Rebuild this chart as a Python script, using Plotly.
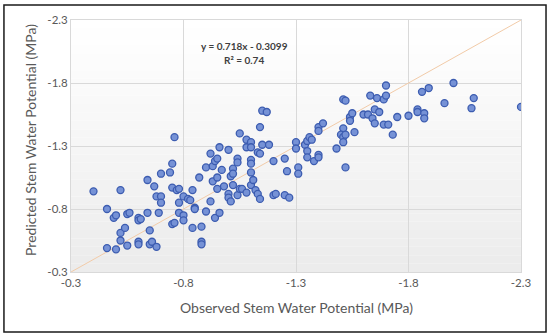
import plotly.graph_objects as go

observed = [-0.40, -0.46, -0.46, -0.49, -0.50, -0.50, -0.52, -0.52, -0.52, -0.54,
            -0.55, -0.55, -0.56, -0.60, -0.60, -0.61, -0.60, -0.60, -0.64, -0.64,
            -0.65, -0.65, -0.66, -0.67, -0.68, -0.68, -0.69, -0.70, -0.70, -0.70,
            -0.74, -0.75, -0.75, -0.75, -0.76, -0.76, -0.77, -0.78, -0.78, -0.78,
            -0.80, -0.80, -0.80, -0.82, -0.83, -0.84, -0.84, -0.85, -0.85, -0.87,
            -0.88, -0.88, -0.88, -0.90, -0.90, -0.92, -0.92, -0.93, -0.93, -0.94,
            -0.94, -0.95, -0.95, -0.95, -0.96, -0.96, -0.97, -0.98, -1.00, -1.00,
            -1.00, -1.01, -1.01, -1.02, -1.02, -1.02, -1.04, -1.04, -1.04, -1.05,
            -1.05, -1.06, -1.08, -1.08, -1.08, -1.10, -1.10, -1.10, -1.10, -1.10,
            -1.10, -1.11, -1.12, -1.13, -1.13, -1.14, -1.14, -1.14, -1.15, -1.15,
            -1.17, -1.18, -1.20, -1.20, -1.21, -1.25, -1.25, -1.26, -1.27, -1.30,
            -1.30, -1.31, -1.31, -1.34, -1.35, -1.35, -1.35, -1.36, -1.37, -1.38,
            -1.40, -1.40, -1.40, -1.40, -1.42, -1.48, -1.51, -1.52, -1.51, -1.50,
            -1.51, -1.51, -1.52, -1.52, -1.54, -1.54, -1.55, -1.56, -1.60, -1.62,
            -1.63, -1.64, -1.65, -1.65, -1.66, -1.67, -1.69, -1.69, -1.70, -1.70,
            -1.71, -1.73, -1.75, -1.80, -1.84, -1.84, -1.86, -1.87, -1.87, -1.89,
            -1.96, -2.00, -2.08, -2.09, -2.30]

predicted = [-0.94, -0.80, -0.49, -0.73, -0.75, -0.48, -0.95, -0.61, -0.55, -0.65,
             -0.76, -0.51, -0.77, -0.73, -0.71, -0.72, -0.54, -0.52, -1.03, -0.77,
             -0.63, -0.52, -0.54, -0.98, -0.90, -0.50, -0.77, -1.08, -0.90, -0.85,
             -1.09, -1.16, -0.97, -0.68, -1.37, -0.69, -0.95, -0.96, -0.85, -0.77,
             -0.90, -0.75, -0.71, -0.88, -0.87, -0.65, -0.95, -0.81, -0.80, -1.05,
             -0.66, -0.54, -0.52, -1.13, -0.78, -1.24, -0.86, -1.02, -1.14, -1.18,
             -0.73, -1.20, -1.05, -0.96, -1.29, -0.77, -1.11, -0.98, -1.27, -0.92,
             -0.89, -1.06, -0.86, -1.12, -1.08, -0.99, -1.20, -1.17, -0.91, -1.40,
             -0.96, -0.96, -1.35, -1.29, -0.93, -1.33, -1.29, -1.19, -1.16, -1.09,
             -0.99, -1.03, -0.95, -1.25, -0.92, -1.45, -1.24, -0.88, -1.58, -1.31,
             -1.57, -1.31, -1.18, -0.91, -0.92, -1.20, -0.91, -1.10, -0.89, -1.33,
             -1.28, -1.13, -1.08, -1.31, -1.34, -1.26, -1.21, -1.37, -1.35, -1.18,
             -1.45, -1.42, -1.23, -1.21, -1.48, -1.28, -1.67, -1.66, -1.44, -1.39,
             -1.37, -1.33, -1.39, -1.13, -1.53, -1.50, -1.56, -1.41, -1.55, -1.55,
             -1.70, -1.52, -1.59, -1.48, -1.68, -1.57, -1.67, -1.47, -1.70, -1.78,
             -1.47, -1.39, -1.53, -1.54, -1.59, -1.57, -1.73, -1.56, -1.52, -1.76,
             -1.64, -1.80, -1.60, -1.68, -1.61]

tick_values = [-0.3, -0.8, -1.3, -1.8, -2.3]
tick_labels = ["-0.3", "-0.8", "-1.3", "-1.8", "-2.3"]
axis_limits = [-0.3, -2.3]
equation_text = "y = 0.718x - 0.3099"
r2_text = "R² = 0.74"
x_title = "Observed Stem Water Potential (MPa)"
y_title = "Predicted Stem Water Potential (MPa)"

FONT = "Lato, 'Open Sans', sans-serif"
GREY = "#595959"

fig = go.Figure()

# 1:1 line
fig.add_trace(go.Scatter(
    x=axis_limits, y=axis_limits, mode="lines",
    line=dict(color="#f2cba8", width=1), hoverinfo="skip", showlegend=False))

fig.add_trace(go.Scatter(
    x=observed, y=predicted, mode="markers",
    marker=dict(size=7, color="rgb(118,146,214)",
                line=dict(color="rgb(60,92,176)", width=1.3)),
    showlegend=False))

# gradient background of plot area
shapes = []
n = 30
for i in range(n):
    t = i / n
    g = int(round(255 - 20 * t))
    shapes.append(dict(type="rect", xref="x domain", yref="y domain",
                       x0=0, x1=1, y0=1 - (i + 1) / n, y1=1 - i / n,
                       fillcolor=f"rgb({g},{g},{g})", line=dict(width=0),
                       layer="below"))
# outer border
shapes.append(dict(type="rect", xref="paper", yref="paper",
                   x0=-0.149, x1=1.0556, y0=-0.238, y1=1.0595,
                   line=dict(color="#1a1a1a", width=1.5), fillcolor="rgba(0,0,0,0)"))

axis_common = dict(
    range=axis_limits, tickvals=tick_values, ticktext=tick_labels,
    showgrid=True, gridcolor="#d9d9d9", gridwidth=1,
    showline=True, linecolor="#d9d9d9", linewidth=1, mirror=True,
    zeroline=False, ticks="", automargin=False,
    tickfont=dict(family=FONT, size=11.5, color=GREY),
)

fig.update_layout(
    width=550, height=336,
    margin=dict(l=71, r=29, t=20, b=64, autoexpand=False),
    paper_bgcolor="white", plot_bgcolor="rgba(0,0,0,0)",
    shapes=shapes,
    xaxis=dict(**axis_common),
    yaxis=dict(**axis_common),
    annotations=[
        dict(x=-1.07, y=-2.09, xref="x", yref="y", text=f"<b>{equation_text}</b>",
             showarrow=False, font=dict(family=FONT, size=10, color="#404040")),
        dict(x=-1.07, y=-1.98, xref="x", yref="y", text=f"<b>{r2_text}</b>",
             showarrow=False, font=dict(family=FONT, size=10, color="#404040")),
        dict(x=0.5, y=-0.139, xref="paper", yref="paper", text=x_title,
             showarrow=False, xanchor="center", yanchor="middle",
             font=dict(family=FONT, size=14, color=GREY)),
        dict(x=-0.089, y=0.524, xref="paper", yref="paper", text=y_title,
             showarrow=False, xanchor="center", yanchor="middle", textangle=-90,
             font=dict(family=FONT, size=14, color=GREY)),
    ],
)

fig.write_html("out.html", config={"displayModeBar": False},
               post_script="document.body.style.margin='0';document.body.style.padding='0';")
